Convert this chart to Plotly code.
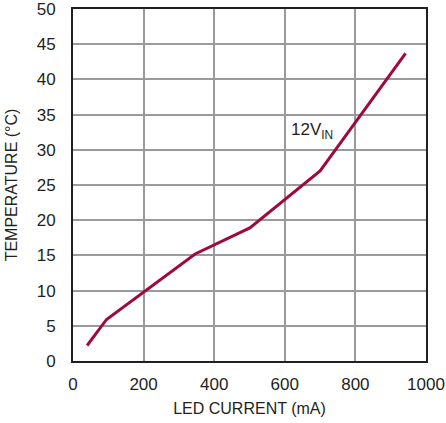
import plotly.graph_objects as go

led_current = [40, 95, 346, 501, 700, 942]
temperature = [2.2, 5.9, 15.2, 18.9, 27.0, 43.7]
x_ticks = [0, 200, 400, 600, 800, 1000]
y_ticks = [0, 5, 10, 15, 20, 25, 30, 35, 40, 45, 50]

FONT = "Liberation Sans, Arial, sans-serif"
INK = "#231f20"

fig = go.Figure()
fig.add_trace(go.Scatter(x=led_current, y=temperature, mode="lines",
                         line=dict(color="#9e0b3a", width=3), showlegend=False))
fig.add_annotation(x=612, y=32.7, text="12V<sub>IN</sub>", showarrow=False,
                   xanchor="left", yanchor="middle",
                   font=dict(family=FONT, size=17, color=INK))
fig.update_layout(
    width=446, height=423,
    margin=dict(l=73, r=20, t=9, b=62),
    paper_bgcolor="white", plot_bgcolor="white",
    font=dict(family=FONT, color=INK),
    xaxis=dict(range=[0, 1000], tickvals=x_ticks, showgrid=True, gridcolor="#9a9a9a",
               gridwidth=1.5, showline=True, linecolor=INK, linewidth=2, mirror=True,
               zeroline=False, ticks="", tickfont=dict(size=17), automargin=False,
               ticklabelstandoff=7, ticklabeloverflow="allow",
               title=dict(text="LED CURRENT (mA)", font=dict(size=16), standoff=9)),
    yaxis=dict(range=[0, 50], tickvals=y_ticks, showgrid=True, gridcolor="#9a9a9a",
               gridwidth=1.5, showline=True, linecolor=INK, linewidth=2, mirror=True,
               zeroline=False, ticks="", tickfont=dict(size=17), automargin=False,
               ticklabelstandoff=12, ticklabeloverflow="allow",
               title=dict(text="TEMPERATURE (°C)", font=dict(size=16))),
)
fig.write_html("out.html", config={"displayModeBar": False},
               post_script="document.body.style.margin='0';")
